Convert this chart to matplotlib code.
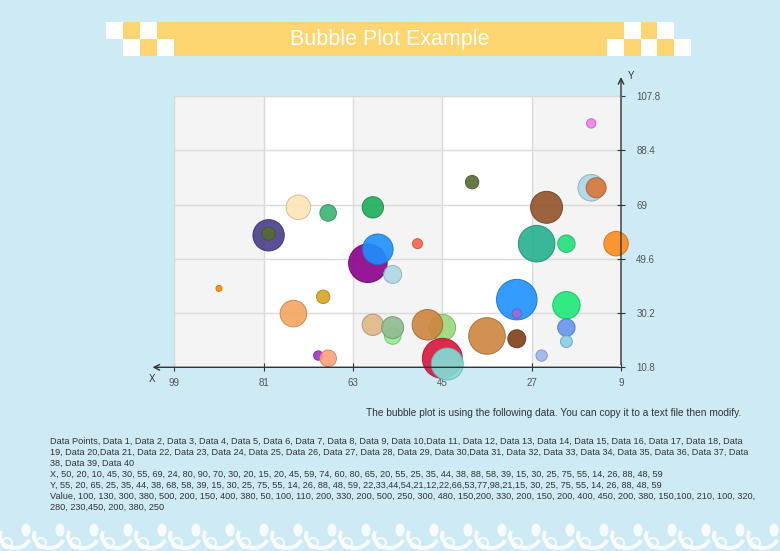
import numpy as np
import matplotlib
matplotlib.use("Agg")
import matplotlib.pyplot as plt
import matplotlib.colors as mcolors
from matplotlib.patches import Rectangle, Circle, Arc, Ellipse

plt.rcParams['font.family'] = ['Liberation Sans', 'DejaVu Sans']

# bubbles (x, y, value ~ bubble area)
x_values = [15, 15, 14, 39, 24, 74, 68, 59, 80, 80,
            26, 20, 10, 50, 60, 58, 55, 90, 69, 75,
            30, 30, 20, 20, 20, 25, 30, 36, 45, 48,
            59, 55, 55, 45, 44, 70, 68]
y_values = [98, 75, 75, 77, 68, 68, 66, 68, 58, 58.6,
            55, 55, 55, 55, 48, 53, 44, 39, 36, 30,
            35, 30, 33, 25, 20, 15, 21, 22, 25, 26,
            26, 22, 25, 14, 12, 15, 14]
bubble_values = [22, 177, 100, 45, 256, 151, 69, 114, 246, 45,
                 335, 76, 151, 25, 372, 234, 81, 9, 45, 177,
                 412, 22, 188, 76, 36, 32, 81, 335, 177, 234,
                 114, 69, 121, 400, 256, 22, 69]
bubble_colors = ["#EE82EE", "#ADD8E6", "#D9773A", "#556B2F", "#93532A",
                 "#FFE4B5", "#3CB371", "#1AAE5A", "#483D8B", "#556B2F",
                 "#26B08E", "#22E07A", "#FF8C1A", "#FF6347", "#8B008B",
                 "#1E90FF", "#ADD8E6", "#FF8C00", "#DAA520", "#F4A460",
                 "#1E90FF", "#9370DB", "#1EE878", "#6495ED", "#87CEEB",
                 "#9DB5F0", "#7E3F18", "#CD853F", "#98D978", "#CD853F",
                 "#DEB887", "#90EE90", "#8FBC8F", "#DC143C", "#7FE0D8",
                 "#9932CC", "#FFA07A"]

x_ticks = [9, 27, 45, 63, 81, 99]
y_ticks = [10.8, 30.2, 49.6, 69, 88.4, 107.8]

title = "Bubble Plot Example"
note_title = "The bubble plot is using the following data. You can copy it to a text file then modify."
note_lines = [
    "Data Points, Data 1, Data 2, Data 3, Data 4, Data 5, Data 6, Data 7, Data 8, Data 9, Data 10,Data 11, Data 12, Data 13, Data 14, Data 15, Data 16, Data 17, Data 18, Data",
    "19, Data 20,Data 21, Data 22, Data 23, Data 24, Data 25, Data 26, Data 27, Data 28, Data 29, Data 30,Data 31, Data 32, Data 33, Data 34, Data 35, Data 36, Data 37, Data",
    "38, Data 39, Data 40",
    "X, 50, 20, 10, 45, 30, 55, 69, 24, 80, 90, 70, 30, 20, 15, 20, 45, 59, 74, 60, 80, 65, 20, 55, 25, 35, 44, 38, 88, 58, 39, 15, 30, 25, 75, 55, 14, 26, 88, 48, 59",
    "Y, 55, 20, 65, 25, 35, 44, 38, 68, 58, 39, 15, 30, 25, 75, 55, 14, 26, 88, 48, 59, 22,33,44,54,21,12,22,66,53,77,98,21,15, 30, 25, 75, 55, 14, 26, 88, 48, 59",
    "Value, 100, 130, 300, 380, 500, 200, 150, 400, 380, 50, 100, 110, 200, 330, 200, 500, 250, 300, 480, 150,200, 330, 200, 150, 200, 400, 450, 200, 380, 150,100, 210, 100, 320,",
    "280, 230,450, 200, 380, 250",
]

W, H = 780, 551
fig = plt.figure(figsize=(7.8, 5.51), dpi=100)
fig.patch.set_facecolor("#CEEAF5")

# background layer in pixel coordinates
bg = fig.add_axes([0, 0, 1, 1], zorder=0)
bg.set_xlim(0, W)
bg.set_ylim(H, 0)
bg.axis("off")

yellow = "#FDD571"
sq = 16.8
bg.add_patch(Rectangle((157, 22), 467, 34, color=yellow, lw=0))
squares = [(106, 22, "w"), (123, 22, "y"), (140, 22, "w"),
           (123, 39, "w"), (140, 39, "y"), (157, 39, "w"),
           (607, 39, "w"), (624, 39, "y"), (641, 39, "w"), (657, 39, "y"), (674, 39, "w"),
           (624, 22, "w"), (641, 22, "y"), (657, 22, "w")]
for sx, sy, c in squares:
    bg.add_patch(Rectangle((sx, sy), sq, sq, color="white" if c == "w" else yellow, lw=0))
bg.text(390, 40, title, color="white", fontsize=15.5, ha="center", va="center")

# note text
bg.text(741, 413, note_title, fontsize=7.3, color="#333333", ha="right", va="center")
for i, line in enumerate(note_lines):
    bg.text(50, 441 + 11 * i, line, fontsize=6.55, color="#333333", ha="left", va="center")

# bottom decoration
for i in range(24):
    x0 = i * 34 - 2
    bg.add_patch(Arc((x0 + 17, 536), 30, 24, theta1=15, theta2=200, color="white", lw=2.8, alpha=0.85))
    bg.add_patch(Ellipse((x0 + 28, 530), 9, 13, color="white", alpha=0.85, lw=0))
    bg.add_patch(Circle((x0 + 9, 543), 5, fill=False, ec="white", lw=1.4, alpha=0.85))

# plot area
ax = fig.add_axes([174.3 / W, 1 - 367.3 / H, 446.7 / W, 271.3 / H], zorder=1)
ax.set_facecolor("white")
ax.set_xlim(99, 9)
ax.set_ylim(10.8, 107.8)
for i in range(0, 5, 2):
    ax.axvspan(x_ticks[i], x_ticks[i + 1], color="#F4F4F4", lw=0, zorder=0)
ax.set_xticks(x_ticks)
ax.set_xticklabels([str(t) for t in x_ticks])
ax.set_yticks(y_ticks)
ax.set_yticklabels([f"{t:g}" for t in y_ticks])
ax.yaxis.tick_right()
ax.grid(True, color="#DADADA", lw=1)
ax.set_axisbelow(True)
ax.tick_params(direction="inout", length=6, width=0.8, color="#333333",
               labelcolor="#555555", labelsize=7)
ax.tick_params(axis="y", pad=8)
ax.tick_params(axis="x", pad=5)
for side in ["right", "bottom"]:
    ax.spines[side].set_visible(False)
for side in ["top", "left"]:
    ax.spines[side].set_color("#DADADA")

edges = [tuple(np.array(mcolors.to_rgb(c)) * 0.8) for c in bubble_colors]
ax.scatter(x_values, y_values, s=np.array(bubble_values) * 2.07, c=bubble_colors,
           alpha=0.9, edgecolors=edges, linewidths=0.7, zorder=3, clip_on=False)

# axis lines with arrows
arrow = dict(arrowstyle="->", color="#333333", lw=1, mutation_scale=10)
ax.annotate("", xy=(1, 1.08), xytext=(1, 0), xycoords="axes fraction",
            arrowprops=arrow, annotation_clip=False)
ax.annotate("", xy=(-0.055, 0), xytext=(1, 0), xycoords="axes fraction",
            arrowprops=arrow, annotation_clip=False)
ax.text(1.015, 1.075, "Y", transform=ax.transAxes, fontsize=7, color="#333333", va="center")
ax.text(-0.05, -0.042, "X", transform=ax.transAxes, fontsize=7, color="#333333", ha="center", va="center")

fig.savefig("out.png", dpi=100, facecolor=fig.get_facecolor())
